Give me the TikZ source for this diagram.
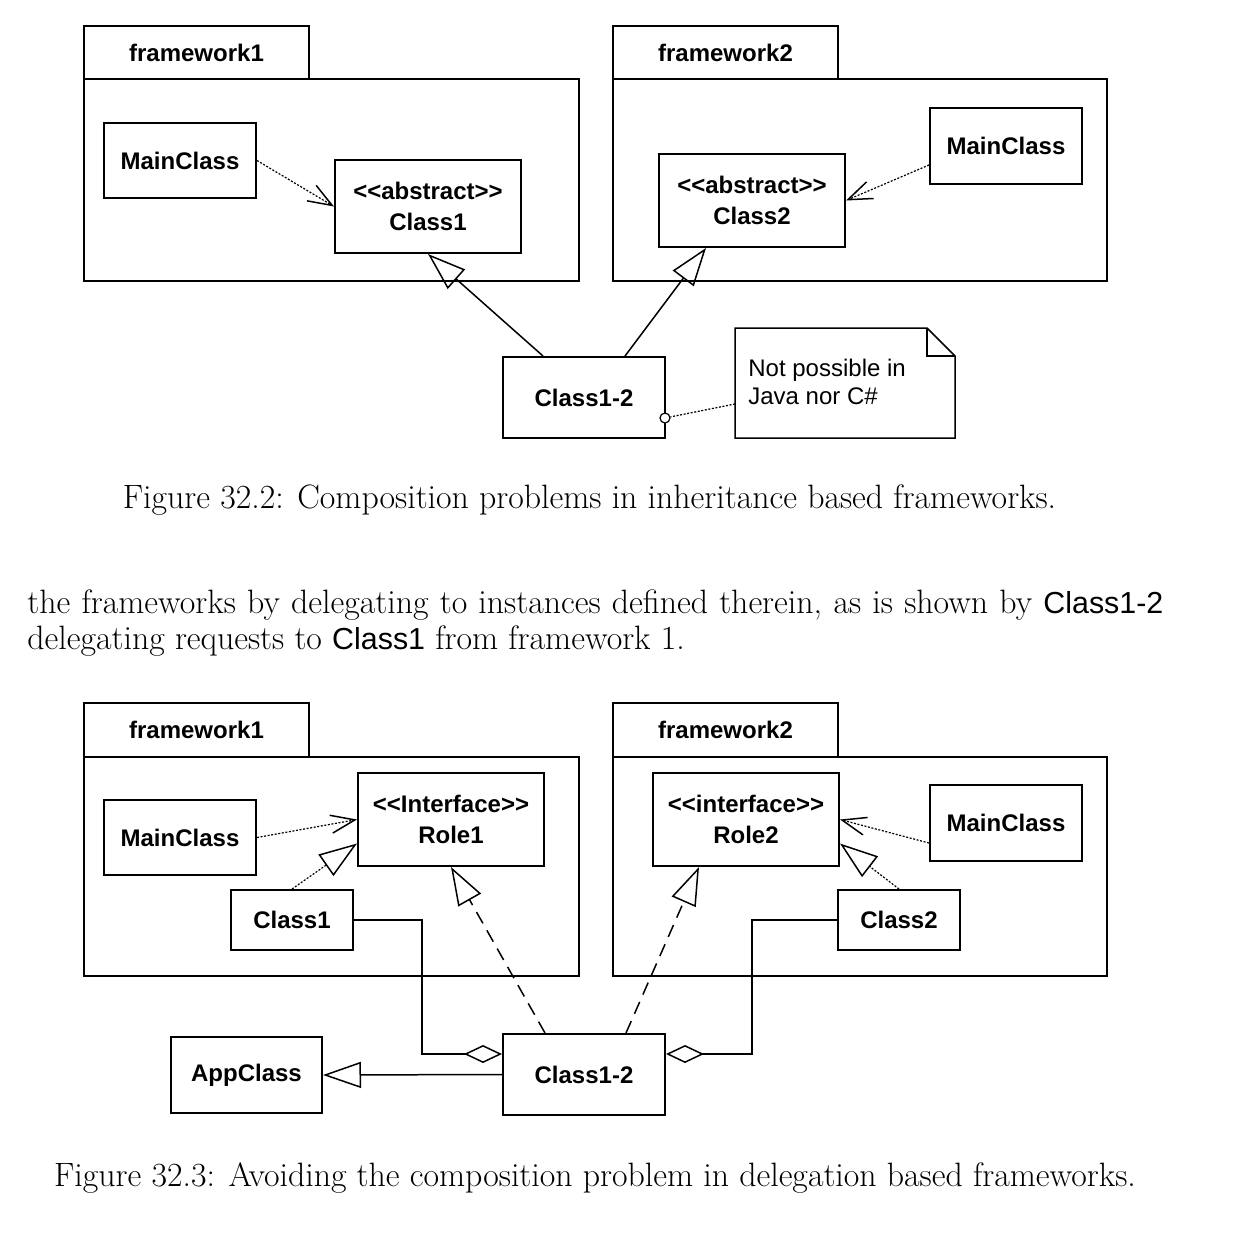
\documentclass[tikz,border=0pt]{standalone}
\usepackage{fontspec}
\setsansfont{Liberation Sans}
\usetikzlibrary{arrows.meta,calc}
\newcommand\stereo[1]{<\kern0pt<#1>\kern0pt>}
\newcommand\bodysf[1]{{\sffamily\fontsize{15.2}{19}\selectfont #1}}
\begin{document}
\begin{tikzpicture}[x=0.5pt,y=-0.5pt,
  umlfont/.style={font=\sffamily\bfseries\fontsize{12}{15.5}\selectfont},
  cls/.style={draw, line width=1pt, inner sep=0pt, umlfont, align=center},
  pkg/.style={draw, line width=1pt, inner sep=0pt},
  tab/.style={draw, line width=1pt, inner sep=0pt, umlfont},
  dep/.style={line width=0.6pt, dash pattern=on 1pt off 0.8pt,
    -{Straight Barb[length=12pt,width=9pt,line width=0.75pt]}},
  real/.style={line width=0.6pt, dash pattern=on 1pt off 0.8pt,
    -{Triangle[open,length=19pt,width=13pt,line width=0.75pt]}},
  dreal/.style={line width=0.75pt, dash pattern=on 6.5pt off 4pt,
    -{Triangle[open,length=19pt,width=13pt,line width=0.75pt]}},
  gen/.style={line width=0.75pt,
    -{Triangle[open,length=19pt,width=13pt,line width=0.75pt]}},
  agg/.style={line width=0.75pt,
    -{Diamond[open,length=19pt,width=9pt,line width=0.75pt]}},
  caption/.style={font=\rmfamily\fontsize{16.9}{19}\selectfont, inner sep=0pt}
]
\useasboundingbox (0,0) rectangle (1235,1239);

% ---------------- Figure 32.2 ----------------
\node[pkg, minimum width=247.5pt, minimum height=101pt] (pk1) at (331.5,180) {};
\node[tab, minimum width=112.5pt, minimum height=26.5pt] (fw1) at (196.5,52.5) {framework1};
\node[pkg, minimum width=247pt, minimum height=101pt] (pk2) at (860,180) {};
\node[tab, minimum width=112.5pt, minimum height=26.5pt] (fw2) at (725.5,52.5) {framework2};

\node[cls, minimum width=76pt, minimum height=37.5pt] (m1) at (180,160.5) {MainClass};
\node[cls, minimum width=93pt, minimum height=46.5pt] (c1) at (428,206.5) {\stereo{abstract}\\Class1};
\node[cls, minimum width=76pt, minimum height=38pt] (m2) at (1006,146) {MainClass};
\node[cls, minimum width=93pt, minimum height=46.5pt] (c2) at (752,200.5) {\stereo{abstract}\\Class2};
\node[cls, minimum width=81pt, minimum height=40.5pt] (c12) at (584,397.5) {Class1-2};

% note
\draw[line width=0.75pt] (735,328) -- (927,328) -- (955,356) -- (955,438) -- (735,438) -- cycle;
\draw[line width=0.75pt] (927,328) -- (927,356) -- (955,356);
\node[anchor=west, align=left, inner sep=0pt, font=\sffamily\fontsize{12}{14}\selectfont] (note) at (748,382) {Not possible in\\Java nor C\#};
\coordinate (noteL) at (735,404);
\node[circle, draw, line width=0.6pt, minimum size=5pt, inner sep=0pt, fill=white] (pin) at (665,418) {};

\draw[dep] (m1.east) -- (c1.west);
\draw[dep] ($(m2.west)+(0,19)$) -- (c2.east);
\draw[gen] ($(c12.north)+(-41,0)$) -- (c1.south);
\draw[gen] ($(c12.north)+(41,0)$) -- ($(c2.south)+(-46,0)$);
\draw[line width=0.6pt, dash pattern=on 1pt off 0.8pt] (noteL) -- (pin);

\node[caption, anchor=base] (cap1) at (589.5,508) {Figure 32.2: Composition problems in inheritance based frameworks.};

% ---------------- body text ----------------
\node[caption, anchor=base west] (txt1) at (27,613) {\makebox[568pt][s]{the frameworks by delegating to instances defined therein, as is shown by \bodysf{Class1-2}}};
\node[caption, anchor=base west] (txt2) at (27,649) {delegating requests to \bodysf{Class1} from framework 1.};

% ---------------- Figure 32.3 ----------------
\node[pkg, minimum width=247.5pt, minimum height=109.5pt] (pk3) at (331.5,866.5) {};
\node[tab, minimum width=112.5pt, minimum height=27pt] (fw3) at (196.5,730) {framework1};
\node[pkg, minimum width=247pt, minimum height=109.5pt] (pk4) at (860,866.5) {};
\node[tab, minimum width=112.5pt, minimum height=27pt] (fw4) at (725.5,730) {framework2};

\node[cls, minimum width=76pt, minimum height=37.5pt] (m3) at (180,837.5) {MainClass};
\node[cls, minimum width=93pt, minimum height=46.5pt] (r1) at (451,819.5) {\stereo{Interface}\\Role1};
\node[cls, minimum width=61pt, minimum height=30pt] (k1) at (292,920) {Class1};
\node[cls, minimum width=93pt, minimum height=46.5pt] (r2) at (746,819.5) {\stereo{interface}\\Role2};
\node[cls, minimum width=76pt, minimum height=38pt] (m4) at (1006,823) {MainClass};
\node[cls, minimum width=61pt, minimum height=30pt] (k2) at (899,920) {Class2};
\node[cls, minimum width=75.5pt, minimum height=38pt] (app) at (246.5,1075) {AppClass};
\node[cls, minimum width=81pt, minimum height=40.5pt] (c12b) at (584,1074.5) {Class1-2};

\draw[dep] (m3.east) -- (r1.west);
\draw[real] (k1.north) -- ($(r1.west)+(0,24)$);
\draw[dep] ($(m4.west)+(0,20)$) -- (r2.east);
\draw[real] (k2.north) -- ($(r2.east)+(0,24)$);
\draw[dreal] ($(c12b.north)+(-39,0)$) -- (r1.south);
\draw[dreal] ($(c12b.north)+(42,0)$) -- ($(r2.south)+(-47,0)$);
\coordinate (j1) at (422,1054);
\coordinate (j2) at (752,1054);
\draw[agg] (k1.east) -| (j1) -- ($(c12b.west)+(0,-20.5)$);
\draw[agg] (k2.west) -| (j2) -- ($(c12b.east)+(0,-20.5)$);
\draw[gen] (c12b.west) -- (app.east);

\node[caption, anchor=base] (cap2) at (595,1186) {Figure 32.3: Avoiding the composition problem in delegation based frameworks.};
\end{tikzpicture}
\end{document}
